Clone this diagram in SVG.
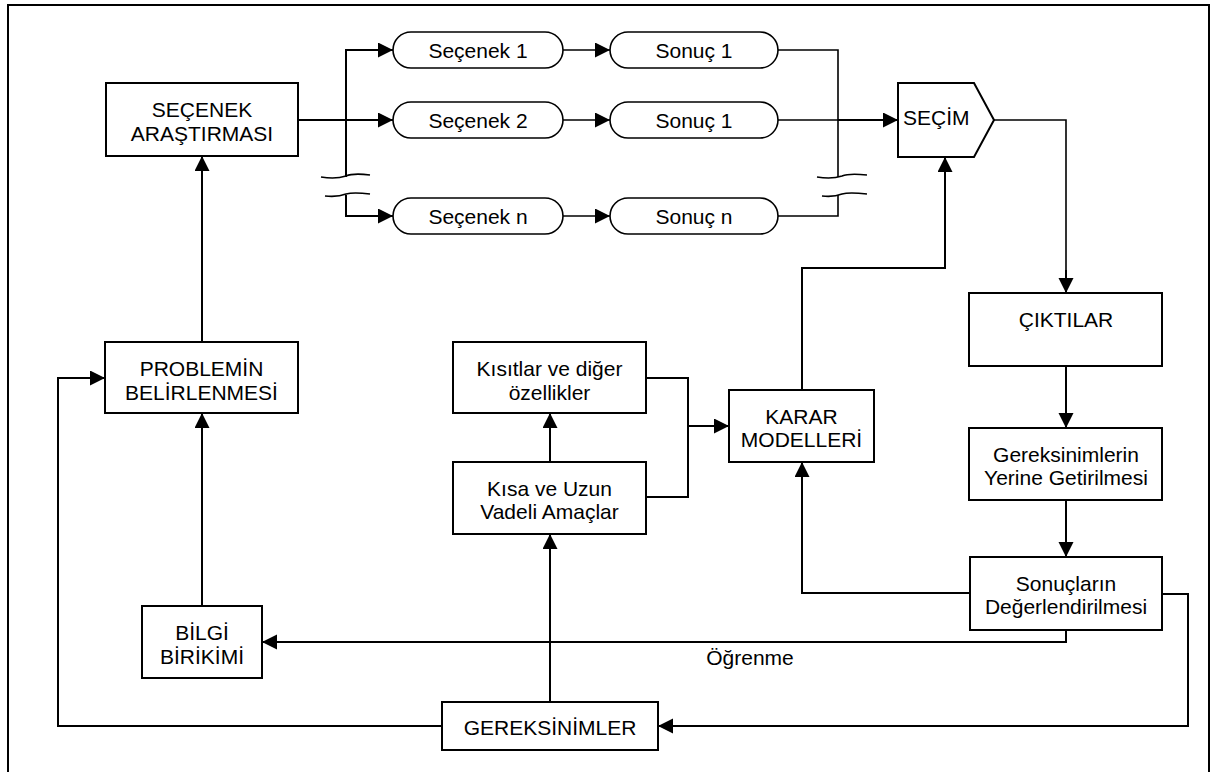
<svg xmlns="http://www.w3.org/2000/svg" width="1211" height="772" viewBox="0 0 1211 772">
<defs>
<marker id="arr" markerUnits="userSpaceOnUse" markerWidth="16" markerHeight="16" refX="15" refY="7.5" orient="auto">
<path d="M0,0 L15,7.5 L0,15 z" fill="#000"/>
</marker>
<style>
.box{fill:#fff;stroke:#000;stroke-width:2}
.pill{fill:#fff;stroke:#000;stroke-width:1.6}
.t{font-family:"Liberation Sans",Arial,sans-serif;font-size:21px;fill:#000;text-anchor:middle}
.c{fill:none;stroke:#000;stroke-width:2}
.cs{fill:none;stroke:#000;stroke-width:1.6}
.a{marker-end:url(#arr)}
</style>
</defs>
<rect width="1211" height="772" fill="#fff"/>
<rect x="8" y="5" width="1201" height="800" fill="none" stroke="#000" stroke-width="2"/>

<g id="connectors">
<!-- from SEÇENEK ARAŞTIRMASI to options -->
<path class="c a" d="M298,120 L393,120"/>
<path class="c a" d="M346,177 L346,50 L393,50"/>
<path class="c a" d="M346,195 L346,216 L393,216"/>
<path class="cs" d="M321,177 C333,179 340,178 346,176 C353,173 362,174 370,175"/>
<path class="cs" d="M325,196 C335,197 341,196 346,194 C353,192 362,193 370,194"/>
<!-- option to result -->
<path class="cs a" d="M563,50 L610,50"/>
<path class="cs a" d="M563,120 L610,120"/>
<path class="cs a" d="M563,216 L610,216"/>
<!-- results to SEÇİM -->
<path class="cs" d="M778,50 L838,50 L838,177"/>
<path class="cs" d="M778,216 L838,216 L838,195"/>
<path class="cs" d="M778,120 L838,120"/>
<path class="c a" d="M838,120 L898,120"/>
<path class="cs" d="M817,177 C829,179 836,178 842,176 C849,173 858,174 867,175"/>
<path class="cs" d="M822,196 C831,197 837,196 842,194 C849,192 858,193 867,194"/>
<!-- SEÇİM to ÇIKTILAR -->
<path class="cs" d="M994,120 L1066,120 L1066,280"/>
<path class="c a" d="M1066,270 L1066,293"/>
<path class="c a" d="M1066,366 L1066,428"/>
<path class="c a" d="M1066,500 L1066,557"/>
<!-- Sonuçların to KARAR -->
<path class="c a" d="M970,593 L802,593 L802,462"/>
<!-- Sonuçların to GEREKSİNİMLER -->
<path class="c a" d="M1162,594 L1188,594 L1188,726 L658,726"/>
<!-- Öğrenme -->
<path class="c a" d="M1066,630 L1066,642 L262,642"/>
<!-- GEREKSİNİMLER to PROBLEMİN -->
<path class="c a" d="M442,726 L58,726 L58,378 L105,378"/>
<!-- GEREKSİNİMLER to Kısa -->
<path class="c a" d="M550,702 L550,534"/>
<path class="c a" d="M550,462 L550,413"/>
<!-- to KARAR -->
<path class="c" d="M646,378 L688,378 L688,497 L646,497"/>
<path class="c a" d="M688,426 L729,426"/>
<!-- KARAR to SEÇİM -->
<path class="c a" d="M802,390 L802,268 L945,268 L945,157"/>
<!-- BİLGİ to PROBLEMİN -->
<path class="c a" d="M202,606 L202,413"/>
<path class="c a" d="M202,342 L202,156"/>
</g>

<g id="secenek-arastirmasi">
<rect class="box" x="106" y="83" width="192" height="73"/>
<text class="t" x="202" y="117">SEÇENEK</text>
<text class="t" x="202" y="141">ARAŞTIRMASI</text>
</g>
<g id="secenek1">
<rect class="pill" x="393" y="32" width="170" height="36" rx="18"/>
<text class="t" x="478" y="57.5">Seçenek 1</text>
</g>
<g id="secenek2">
<rect class="pill" x="393" y="102" width="170" height="36" rx="18"/>
<text class="t" x="478" y="127.5">Seçenek 2</text>
</g>
<g id="secenekn">
<rect class="pill" x="393" y="198" width="170" height="36" rx="18"/>
<text class="t" x="478" y="223.5">Seçenek n</text>
</g>
<g id="sonuc1a">
<rect class="pill" x="610" y="32" width="168" height="36" rx="18"/>
<text class="t" x="694" y="57.5">Sonuç 1</text>
</g>
<g id="sonuc1b">
<rect class="pill" x="610" y="102" width="168" height="36" rx="18"/>
<text class="t" x="694" y="127.5">Sonuç 1</text>
</g>
<g id="sonucn">
<rect class="pill" x="610" y="198" width="168" height="36" rx="18"/>
<text class="t" x="694" y="223.5">Sonuç n</text>
</g>
<g id="secim">
<path class="box" d="M898,83 L974,83 L994,120 L974,157 L898,157 Z"/>
<text class="t" x="903" y="125" style="text-anchor:start">SEÇİM</text>
</g>
<g id="ciktilar">
<rect class="box" x="969" y="293" width="193" height="73"/>
<text class="t" x="1066" y="327">ÇIKTILAR</text>
</g>
<g id="gereksinimlerin">
<rect class="box" x="969" y="428" width="193" height="72"/>
<text class="t" x="1066" y="462">Gereksinimlerin</text>
<text class="t" x="1066" y="485">Yerine Getirilmesi</text>
</g>
<g id="sonuclarin">
<rect class="box" x="970" y="557" width="192" height="73"/>
<text class="t" x="1066" y="591">Sonuçların</text>
<text class="t" x="1066" y="614">Değerlendirilmesi</text>
</g>
<g id="karar">
<rect class="box" x="729" y="390" width="145" height="72"/>
<text class="t" x="801.5" y="424">KARAR</text>
<text class="t" x="801.5" y="447">MODELLERİ</text>
</g>
<g id="kisitlar">
<rect class="box" x="453" y="342" width="193" height="71"/>
<text class="t" x="549.5" y="376">Kısıtlar ve diğer</text>
<text class="t" x="549.5" y="400">özellikler</text>
</g>
<g id="kisa">
<rect class="box" x="453" y="462" width="193" height="72"/>
<text class="t" x="549.5" y="496">Kısa ve Uzun</text>
<text class="t" x="549.5" y="519">Vadeli Amaçlar</text>
</g>
<g id="problemin">
<rect class="box" x="105" y="342" width="193" height="71"/>
<text class="t" x="201.5" y="376">PROBLEMİN</text>
<text class="t" x="201.5" y="400">BELİRLENMESİ</text>
</g>
<g id="bilgi">
<rect class="box" x="142" y="606" width="120" height="72"/>
<text class="t" x="202" y="640">BİLGİ</text>
<text class="t" x="202" y="664">BİRİKİMİ</text>
</g>
<g id="gereksinimler">
<rect class="box" x="442" y="702" width="216" height="48"/>
<text class="t" x="550" y="735">GEREKSİNİMLER</text>
</g>
<text class="t" x="750" y="665">Öğrenme</text>
</svg>
